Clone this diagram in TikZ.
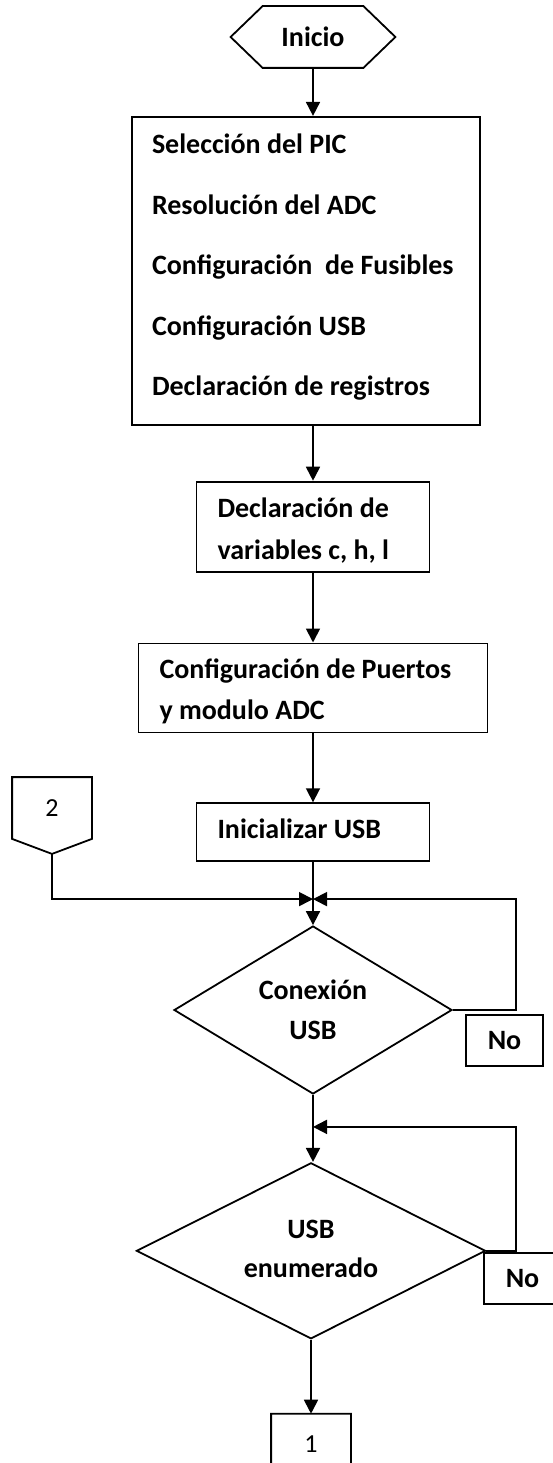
\documentclass[tikz,border=0pt]{standalone}
\usepackage{fontspec}
\setmainfont{Carlito}
\usetikzlibrary{positioning, arrows.meta, shapes.geometric}
\tikzset{
  >={Triangle[length=14pt,width=14pt]},
  box/.style={draw, rectangle, inner sep=0pt},
  txt/.style={font=\fontsize{28}{34}\selectfont\bfseries, inner sep=0pt},
  num/.style={font=\fontsize{26}{30}\selectfont},
  decision/.style={draw, diamond, inner sep=0pt},
  offpage/.style={minimum width=78pt, inner sep=0pt}
}

\begin{document}
\begin{tikzpicture}[x=1pt, y=-1pt, line width=1.8pt]
  \useasboundingbox (0,0) rectangle (553,1463);

  % main column
  \node[txt, minimum width=163pt, minimum height=60pt] (inicio) at (313,37) {Inicio};
  \node[box, minimum width=348pt, minimum height=308pt, below=48pt of inicio, xshift=-7pt] (sel) {};
  \node[box, minimum width=233pt, minimum height=90pt, below=55pt of sel, xshift=7pt] (decl) {};
  \node[box, minimum width=349pt, minimum height=89pt, below=70pt of decl] (conf) {};
  \node[box, minimum width=233pt, minimum height=58pt, below=69pt of conf] (init) {};
  \node[decision, minimum width=278pt, minimum height=168pt, below=63pt of init] (conn) {};
  \node[decision, minimum width=349pt, minimum height=176pt, below=67pt of conn, xshift=-2pt] (enum) {};
  \node[num, offpage, minimum height=50pt, text height=26pt, below=74pt of enum] (c1) {1};
  \node[num, offpage, minimum height=60pt] (c2) at (52,808) {2};

  % shapes drawn round text
  \draw (inicio.west) -- ([xshift=32pt]inicio.north west) -- ([xshift=-32pt]inicio.north east)
     -- (inicio.east) -- ([xshift=-32pt]inicio.south east) -- ([xshift=32pt]inicio.south west) -- cycle;
  \draw (c1.north west) -- (c1.north east) -- (c1.south east) -- ([yshift=-10pt]c1.south) -- (c1.south west) -- cycle;
  \draw (c2.north west) -- (c2.north east) -- (c2.south east) -- ([yshift=-15pt]c2.south) coordinate (c2p)
     -- (c2.south west) -- cycle;

  % box texts
  \foreach \txt [count=\i] in {Selección del PIC, Resolución del ADC, Configuración\ \ de Fusibles,
      Configuración USB, Declaración de registros}
    \node[txt, anchor=base west] (sel\i) at ([xshift=20pt, yshift={-38pt-60.5pt*(\i-1)}]sel.north west) {\txt};
  \node[txt, anchor=base west] (decl1) at ([xshift=21pt, yshift=-37pt]decl.north west) {Declaración de};
  \node[txt, anchor=base west] (decl2) at ([xshift=21pt, yshift=-79pt]decl.north west) {variables c, h, l};
  \node[txt, anchor=base west] (conf1) at ([xshift=21pt, yshift=-36pt]conf.north west) {Configuración de Puertos};
  \begin{scope}
    \clip (conf.north west) rectangle ([yshift=10pt]conf.south east);
    \node[txt, anchor=base west] (conf2) at ([xshift=21pt, yshift=-77pt]conf.north west) {y modulo ADC};
  \end{scope}
  \node[txt, anchor=base west] (init1) at ([xshift=21pt, yshift=-36pt]init.north west) {Inicializar USB};
  \node[txt, anchor=base] (conn1) at ([yshift=11pt]conn.center) {Conexión};
  \node[txt, anchor=base] (conn2) at ([yshift=-29pt]conn.center) {USB};
  \node[txt, anchor=base] (enum1) at ([yshift=12pt]enum.center) {USB};
  \node[txt, anchor=base] (enum2) at ([yshift=-27pt]enum.center) {enumerado};

  % No labels
  \node[box, txt, minimum width=77pt, minimum height=51pt] (no1) at (504.5,1040.5) {No};
  \node[box, txt, minimum width=77pt, minimum height=51pt] (no2) at (522.5,1278.5) {No};

  % merge points
  \coordinate (m1) at ([yshift=-37pt]init.south);
  \coordinate (m2) at ([yshift=-32pt]conn.south);
  \coordinate (rx) at (516,0);

  % connectors
  \draw[->] (inicio) -- (inicio |- sel.north);
  \draw[->] (inicio |- sel.south) -- (decl);
  \draw[->] (decl) -- (conf);
  \draw[->] (conf) -- (init);
  \draw[->] (init) -- (conn);
  \draw[->] (conn) -- (conn |- enum.north);
  \draw[->] (enum) -- (c1);
  \draw[->] (c2p) |- (m1);
  \draw[->] (conn.east) -- (conn.east -| rx) |- (m1);
  \draw[->] (enum.east) -- (enum.east -| rx) |- (m2);
\end{tikzpicture}
\end{document}
